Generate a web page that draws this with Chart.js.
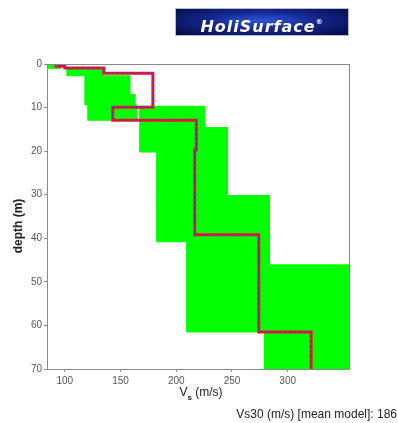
<!DOCTYPE html>
<html>
<head>
<meta charset="utf-8">
<style>
    body { margin: 0; background: #fff; }
    .wrap { position: relative; width: 398px; height: 423px; }
    .logo {
        position: absolute; left: 176px; top: 9px; width: 172px; height: 26px;
        background: radial-gradient(ellipse at 50% 45%, #2f55d8 0%, #13268e 45%, #060a3e 100%);
        box-shadow: 0 0 0 1px #b8bcd0;
        color: #fff; font-family: 'DejaVu Sans', sans-serif; font-weight: bold; font-style: italic;
        font-size: 16px; line-height: 26px; text-align: center; letter-spacing: 1px;
    }
    .logo sup { font-size: 7px; vertical-align: 8px; font-style: normal; }
</style>
</head>
<body>
<div class="wrap">
    <div class="logo">HoliSurface<sup>®</sup></div>
    <canvas id="vsChart" width="398" height="423"></canvas>
</div>

<script src="https://cdn.jsdelivr.net/npm/chart.js"></script>
<script>
    // Tick labels
    const depthTicks = [0, 10, 20, 30, 40, 50, 60, 70];
    const vsTicks = [100, 150, 200, 250, 300];

    // Mean model (layer velocity and layer bottom depth)
    const meanVs = [92, 100, 135, 179, 143, 218, 216.5, 274, 321];
    const meanBottom = [0.5, 0.9, 2.1, 9.9, 12.9, 19.7, 39.2, 61.5, 70];

    // Range of models (green bands)
    const bandTop = [0, 1, 2.7, 7, 9.4, 9.7, 14.6, 20.2, 30.2, 40.8, 46.1, 61.5];
    const bandBottom = [1, 2.7, 7, 9.4, 12.9, 14.6, 20.2, 30.2, 40.8, 46.1, 61.5, 70];
    const bandMin = [84, 101.8, 118, 118, 120.6, 167.2, 167.2, 182.4, 182.4, 209.3, 209.3, 279.2];
    const bandMax = [96, 134, 158.2, 162.7, 164.5, 225.4, 246, 246, 283.7, 283.7, 355, 355];

    const vs30 = 186;

    // staircase of the mean model
    const meanLine = [{ x: meanVs[0], y: 0 }];
    meanVs.forEach((v, i) => {
        meanLine.push({ x: v, y: meanBottom[i] });
        if (i < meanVs.length - 1) meanLine.push({ x: meanVs[i + 1], y: meanBottom[i] });
    });

    const bandSets = bandTop.map((top, i) => ({
        data: [
            { x: bandMin[i], y: top }, { x: bandMax[i], y: top },
            { x: bandMax[i], y: bandBottom[i] }, { x: bandMin[i], y: bandBottom[i] },
            { x: bandMin[i], y: top }
        ],
        showLine: true,
        fill: 'shape',
        backgroundColor: '#00ff00',
        borderColor: '#00ff00',
        borderWidth: 1,
        pointRadius: 0,
        order: 10
    }));

    const frame = {
        id: 'frame',
        afterDatasetsDraw(chart) {
            const { ctx, chartArea: a } = chart;
            ctx.save();
            ctx.strokeStyle = '#8a8a8a';
            ctx.lineWidth = 1;
            ctx.strokeRect(a.left + 0.5, a.top + 0.5, a.right - a.left, a.bottom - a.top);

            ctx.fillStyle = '#222';
            // y title
            ctx.font = "bold 12px 'Liberation Sans', Arial, sans-serif";
            ctx.translate(19, 226);
            ctx.rotate(-Math.PI / 2);
            ctx.textAlign = 'center';
            ctx.textBaseline = 'middle';
            ctx.fillText('depth (m)', 0, 0);
            ctx.setTransform(1, 0, 0, 1, 0, 0);

            // x title with subscript
            ctx.textAlign = 'left';
            ctx.textBaseline = 'alphabetic';
            ctx.font = "12px 'Liberation Sans', Arial, sans-serif";
            const wV = ctx.measureText('V').width;
            const wR = ctx.measureText(' (m/s)').width;
            ctx.font = "bold 8px 'Liberation Sans', Arial, sans-serif";
            const wS = ctx.measureText('s').width;
            let x0 = 201 - (wV + wS + wR) / 2;
            ctx.font = "12px 'Liberation Sans', Arial, sans-serif";
            ctx.fillText('V', x0, 396);
            ctx.font = "bold 8px 'Liberation Sans', Arial, sans-serif";
            ctx.fillText('s', x0 + wV, 400);
            ctx.font = "12px 'Liberation Sans', Arial, sans-serif";
            ctx.fillText(' (m/s)', x0 + wV + wS, 396);

            // Vs30 note
            ctx.textAlign = 'right';
            ctx.fillText('Vs30 (m/s) [mean model]: ' + vs30, 397, 418);
            ctx.restore();
        }
    };

    new Chart(document.getElementById('vsChart'), {
        type: 'scatter',
        data: {
            datasets: [
                {
                    data: meanLine, showLine: true, borderColor: '#3a3aff', borderWidth: 1.6,
                    borderDash: [2, 3], pointRadius: 0, fill: false, order: 1
                },
                {
                    data: meanLine, showLine: true, borderColor: '#ff1010', borderWidth: 3,
                    pointRadius: 0, fill: false, order: 2
                },
                ...bandSets
            ]
        },
        options: {
            responsive: false,
            animation: false,
            layout: { padding: { left: 0, top: 64, right: 49, bottom: 0 } },
            plugins: { legend: { display: false }, tooltip: { enabled: false } },
            scales: {
                x: {
                    type: 'linear', min: 84, max: 355,
                    afterBuildTicks: s => { s.ticks = vsTicks.map(v => ({ value: v })); },
                    afterFit: s => { s.height = 54; },
                    grid: { drawOnChartArea: false, tickLength: 3, color: '#8a8a8a' },
                    border: { color: '#8a8a8a' },
                    ticks: { padding: 3, maxRotation: 0, color: '#555', font: { size: 10, family: "'Liberation Sans', Arial, sans-serif" } }
                },
                y: {
                    type: 'linear', min: 0, max: 70, reverse: true,
                    afterBuildTicks: s => { s.ticks = depthTicks.map(v => ({ value: v })); },
                    afterFit: s => { s.width = 47; },
                    grid: { drawOnChartArea: false, tickLength: 3, color: '#8a8a8a' },
                    border: { color: '#8a8a8a' },
                    ticks: { padding: 2, color: '#555', font: { size: 10, family: "'Liberation Sans', Arial, sans-serif" } }
                }
            }
        },
        plugins: [frame]
    });
</script>
</body>
</html>
